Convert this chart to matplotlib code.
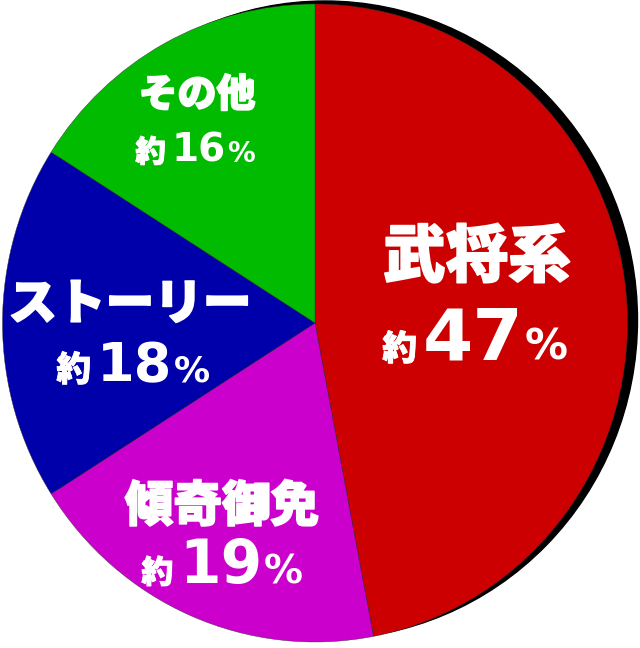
import matplotlib
matplotlib.use("Agg")
import matplotlib.pyplot as plt
import matplotlib.transforms as mtransforms
import matplotlib.patheffects as pe
from matplotlib.patches import Ellipse

# ---- data ----
categories = ["武将系", "傾奇御免", "ストーリー", "その他"]
values = [47, 19, 18, 16]
colors = ["#CC0000", "#CC00CC", "#0000AA", "#00BB00"]
prefix = "約"
suffix = "%"

W, H = 640, 648
fig = plt.figure(figsize=(W / 100, H / 100), dpi=100)
ax = fig.add_axes([0, 0, 1, 1])

# data units: y = pixels (from bottom), x = pixels * sx  (slightly elliptical pie)
rx, ry = 312.5, 319.0
sx = ry / rx
cxp, cyp = 315.0, 323.0          # pie centre in image pixels
cx, cy = cxp * sx, H - cyp

# shadow
ax.add_patch(Ellipse((cx + 10 * sx, cy + 3), 2 * ry, 2 * ry, color="black", zorder=0))
ax.pie(values, colors=colors, startangle=90, counterclock=False,
       center=(cx, cy), radius=ry, frame=True,
       wedgeprops=dict(linewidth=0.3, edgecolor="#333333"))
ax.set_xlim(0, W * sx)
ax.set_ylim(0, H)
ax.set_aspect("auto")
ax.axis("off")

pix = mtransforms.Affine2D().scale(1 / W, -1 / H).translate(0, 1) + fig.transFigure
name_stroke = [pe.withStroke(linewidth=1.2, foreground="white")]
small_stroke = [pe.withStroke(linewidth=0.6, foreground="white")]
cjk = ["Noto Sans CJK JP", "DejaVu Sans"]

# label layout (positions in image pixels)
layout = {
    "武将系":   dict(name=(477, 258, 45), line=(475, 360, 25, 52, 31)),
    "傾奇御免": dict(name=(222, 507, 35), line=(222, 583, 23, 43, 28)),
    "ストーリー": dict(name=(130, 305, 35), line=(133, 381, 25, 39, 26)),
    "その他":   dict(name=(197, 95, 28), line=(195, 162, 22, 28, 20)),
}

texts_to_place = []
for cat, val in zip(categories, values):
    L = layout[cat]
    nx, ny, nfs = L["name"]
    fig.text(nx, ny, cat, transform=pix, ha="center", va="center",
             fontsize=nfs, color="white", family=cjk, weight="heavy",
             path_effects=name_stroke)
    lx, ly, pfs, dfs, sfs = L["line"]
    t1 = fig.text(0, ly, prefix, transform=pix, ha="left", va="baseline",
                  fontsize=pfs, color="white", family=cjk, weight="heavy",
                  path_effects=small_stroke)
    t2 = fig.text(0, ly, str(val), transform=pix, ha="left", va="baseline",
                  fontsize=dfs, color="white", family="DejaVu Sans", weight="bold")
    t3 = fig.text(0, ly, suffix, transform=pix, ha="left", va="baseline",
                  fontsize=sfs, color="white", family="DejaVu Sans", weight="bold")
    texts_to_place.append((lx, [t1, t2, t3]))

fig.canvas.draw()
r = fig.canvas.get_renderer()
gaps = [6, 1]
for lx, ts in texts_to_place:
    widths = [t.get_window_extent(r).width for t in ts]
    total = sum(widths) + sum(gaps)
    x = lx - total / 2
    for i, t in enumerate(ts):
        t.set_x(x)
        x += widths[i] + (gaps[i] if i < len(gaps) else 0)

fig.savefig("out.png", dpi=100, facecolor="white")
